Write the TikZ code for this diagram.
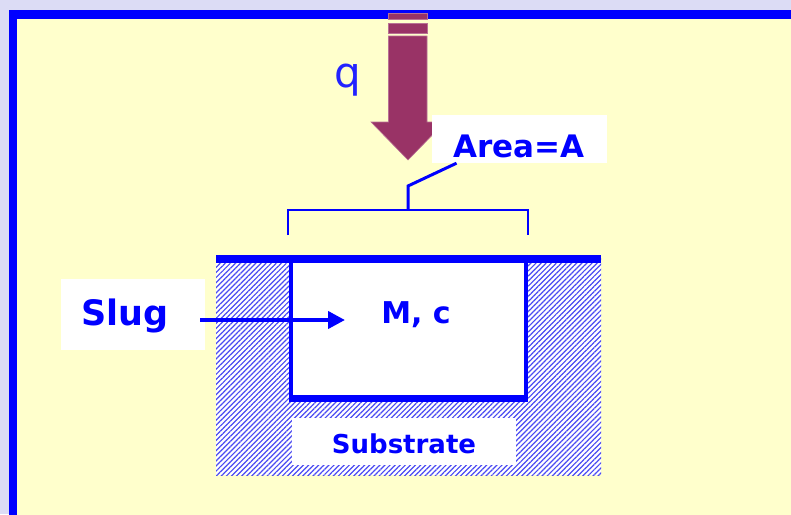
\documentclass[tikz,border=0pt]{standalone}
\usepackage{fontspec}
\setmainfont{DejaVu Sans}
\usetikzlibrary{arrows.meta,patterns.meta}
\definecolor{bgout}{HTML}{DCDCF5}
\definecolor{frameblue}{HTML}{0000FF}
\definecolor{paper}{HTML}{FFFFCC}
\definecolor{maroon}{HTML}{993366}
\definecolor{hatchbg}{HTML}{FFFFFF}
\definecolor{hatchline}{HTML}{4A4AF2}
\definecolor{qblue}{HTML}{2222FF}
\tikzset{
  whitebox/.style={fill=white,draw=none,inner sep=0pt},
  lbl/.style={text=frameblue,inner sep=0pt,anchor=base,font=\bfseries},
  bluewall/.style={fill=frameblue,draw=none},
  fluxpart/.style={fill=maroon,draw=maroon!70!white,line width=0.6pt},
}
\begin{document}
\begin{tikzpicture}[x=1pt,y=-1pt]
\useasboundingbox (0,0) rectangle (791,514);
% background and frame
\fill[bgout] (0,0) rectangle (791,514);
\fill[frameblue] (9,10) rectangle (800,520);
\fill[paper] (17,19) rectangle (800,520);
% heat flux arrow
\fill[fluxpart] (388.5,13) rectangle (427,19.5);
\fill[fluxpart] (388.5,23) rectangle (427,33);
\filldraw[fluxpart] (388.5,36) -- (427,36) -- (427,122) -- (445,122) -- (408,160)
   -- (371,122) -- (388.5,122) -- cycle;
\node[text=qblue,inner sep=0pt,anchor=base,font=\fontsize{42}{48}\selectfont] (q) at (348,87) {q};
% Area label and bracket
\node[whitebox,minimum width=175pt,minimum height=48pt] (area) at (519.5,139) {};
\node[lbl,font=\bfseries\fontsize{31}{36}\selectfont] (arealbl) at (519,157) {Area=A};
\coordinate (brk) at (408,210);
\draw[frameblue,line width=3pt] ([xshift=-63pt]area.south) -- (408,186) -- (brk);
\draw[frameblue,line width=1.8pt] (288,235) -- (288,210) -- (brk) -- (528,210) -- (528,235);
% substrate hatching
\fill[hatchbg] (216,255) rectangle (601,475);
\fill[pattern={Lines[angle=45,distance=3.6pt,line width=1.2pt]},pattern color=hatchline] (216,255) rectangle (601,475);
% cavity with slug
\fill[white] (290,258) rectangle (527,398);
\fill[bluewall] (216,255) rectangle (601,262.5);
\fill[bluewall] (289,255) rectangle (293,402);
\fill[bluewall] (523.5,255) rectangle (528,402);
\fill[bluewall] (289,394.5) rectangle (528,402);
\node[lbl,font=\bfseries\fontsize{30}{34}\selectfont] (mc) at (416,323) {M, c};
% substrate label
\node[whitebox,minimum width=224pt,minimum height=47pt] (subbox) at (404,441.5) {};
\node[lbl,font=\bfseries\fontsize{26}{30}\selectfont] (sublbl) at (404,453) {Substrate};
% slug label and arrow
\node[whitebox,minimum width=144pt,minimum height=71pt] (slug) at (133,314.5) {};
\node[lbl,font=\bfseries\fontsize{35}{40}\selectfont] (sluglbl) at (125,325) {Slug};
\coordinate (slugtip) at (345,320);
\draw[frameblue,line width=4pt,-{Triangle[length=17pt,width=17pt]}] ([xshift=-5pt,yshift=-5.5pt]slug.east) -- (slugtip);
\end{tikzpicture}
\end{document}
